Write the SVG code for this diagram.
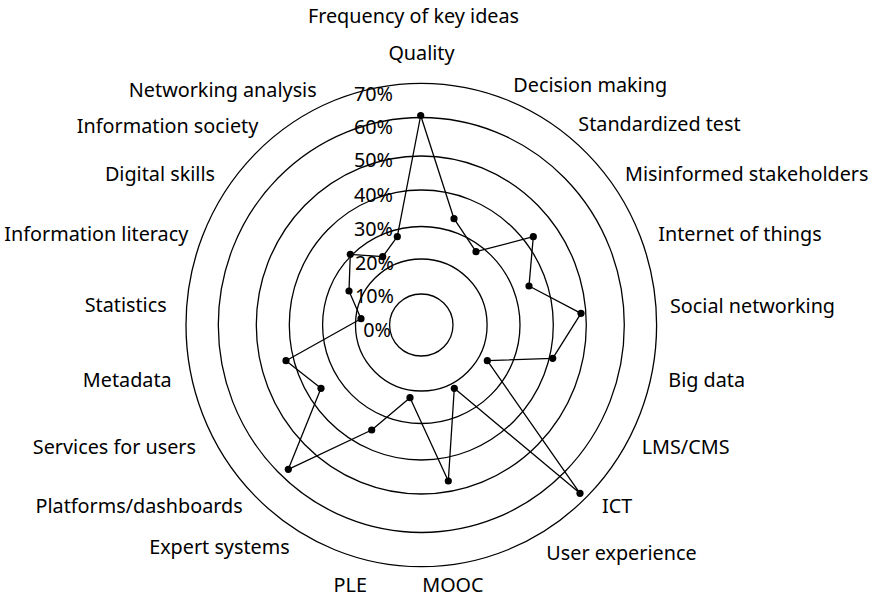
<svg xmlns="http://www.w3.org/2000/svg" width="875" height="596" viewBox="0 0 875 596">
<style>
  text { font-family: "Noto Sans", "Open Sans", sans-serif; font-size: 19.8px; fill: #000; }
  .grid { fill: none; stroke: #000; stroke-width: 1.3; }
  .series { fill: none; stroke: #000; stroke-width: 1.3; stroke-linejoin: round; }
  .dot { fill: #000; }
  .e { text-anchor: end; }
  .m { text-anchor: middle; }
</style>
<rect x="0" y="0" width="875" height="596" fill="#fff"/>
<g id="grid">
  <ellipse class="grid" cx="421.3" cy="325" rx="31.7" ry="31"/>
  <ellipse class="grid" cx="421.3" cy="325" rx="65.8" ry="66"/>
  <ellipse class="grid" cx="421.3" cy="325" rx="98.7" ry="98.5"/>
  <ellipse class="grid" cx="421.3" cy="325" rx="132" ry="135"/>
  <ellipse class="grid" cx="421.3" cy="325" rx="165" ry="169"/>
  <ellipse class="grid" cx="421.3" cy="325" rx="203" ry="207.5"/>
  <ellipse class="grid" cx="421.3" cy="325" rx="235.3" ry="241.7"/>
</g>
<g id="axis-labels">
  <text class="e" x="393" y="100.7">70%</text>
  <text class="e" x="393" y="133.5">60%</text>
  <text class="e" x="393" y="167.3">50%</text>
  <text class="e" x="393" y="202">40%</text>
  <text class="e" x="393" y="236">30%</text>
  <text class="e" x="394" y="269.5">20%</text>
  <text class="e" x="394" y="302.5">10%</text>
  <text class="e" x="391" y="337.3">0%</text>
</g>
<g id="series">
  <polygon class="series" points="420.7,115.5 454,218.7 476,251.7 533.3,236.7 529,286 581,313.3 552.7,358.3 487.3,360.7 580,493.3 454.3,388.3 448.3,481 410,397.7 371.7,430 288.3,469.3 321,388.3 286,360.7 361,318.7 349,291 350.3,254.3 382.7,256.7 397.3,236.7"/>
  <g class="dot">
    <circle cx="420.7" cy="115.5" r="3.6"/>
    <circle cx="454" cy="218.7" r="3.6"/>
    <circle cx="476" cy="251.7" r="3.6"/>
    <circle cx="533.3" cy="236.7" r="3.6"/>
    <circle cx="529" cy="286" r="3.6"/>
    <circle cx="581" cy="313.3" r="3.6"/>
    <circle cx="552.7" cy="358.3" r="3.6"/>
    <circle cx="487.3" cy="360.7" r="3.6"/>
    <circle cx="580" cy="493.3" r="3.6"/>
    <circle cx="454.3" cy="388.3" r="3.6"/>
    <circle cx="448.3" cy="481" r="3.6"/>
    <circle cx="410" cy="397.7" r="3.6"/>
    <circle cx="371.7" cy="430" r="3.6"/>
    <circle cx="288.3" cy="469.3" r="3.6"/>
    <circle cx="321" cy="388.3" r="3.6"/>
    <circle cx="286" cy="360.7" r="3.6"/>
    <circle cx="361" cy="318.7" r="3.6"/>
    <circle cx="349" cy="291" r="3.6"/>
    <circle cx="350.3" cy="254.3" r="3.6"/>
    <circle cx="382.7" cy="256.7" r="3.6"/>
    <circle cx="397.3" cy="236.7" r="3.6"/>
  </g>
</g>
<g id="title">
  <text class="m" x="413.5" y="23.3">Frequency of key ideas</text>
</g>
<g id="category-labels">
  <text class="m" x="421.5" y="60">Quality</text>
  <text x="513.3" y="91.7">Decision making</text>
  <text x="578.3" y="130.5">Standardized test</text>
  <text x="625" y="181">Misinformed stakeholders</text>
  <text x="658.3" y="240.7">Internet of things</text>
  <text x="670" y="312.7">Social networking</text>
  <text x="668.3" y="386.7">Big data</text>
  <text x="641.7" y="454">LMS/CMS</text>
  <text x="602" y="512.5">ICT</text>
  <text x="546.3" y="560">User experience</text>
  <text x="422.2" y="591.7">MOOC</text>
  <text class="e" x="366.9" y="591.7">PLE</text>
  <text class="e" x="289.7" y="554">Expert systems</text>
  <text class="e" x="242.7" y="512.5">Platforms/dashboards</text>
  <text class="e" x="196" y="454">Services for users</text>
  <text class="e" x="171.7" y="387">Metadata</text>
  <text class="e" x="166.7" y="312.3">Statistics</text>
  <text class="e" x="188.3" y="240.5">Information literacy</text>
  <text class="e" x="215" y="181">Digital skills</text>
  <text class="e" x="258.3" y="132.7">Information society</text>
  <text class="e" x="316.7" y="96.5">Networking analysis</text>
</g>
</svg>
